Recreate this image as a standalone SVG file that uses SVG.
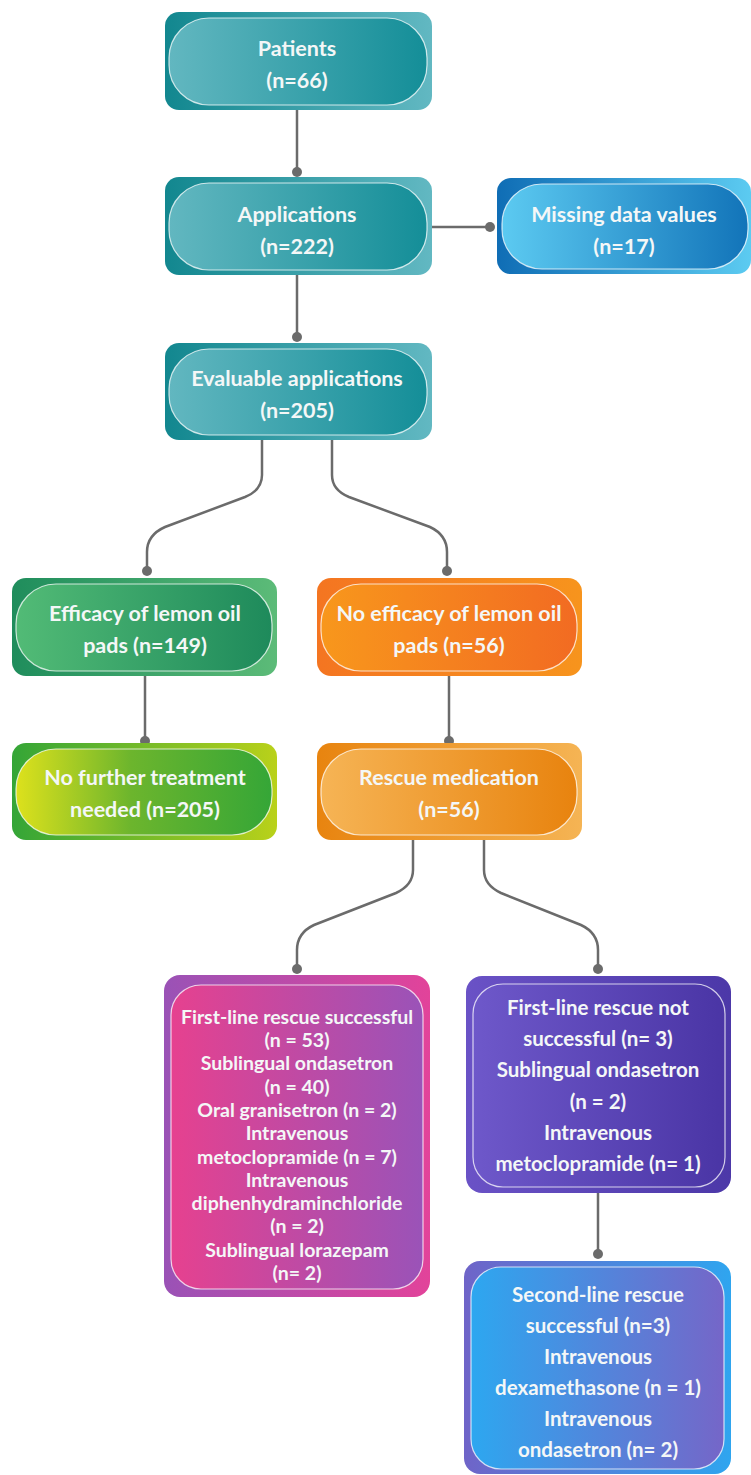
<svg xmlns="http://www.w3.org/2000/svg" width="751" height="1475" viewBox="0 0 751 1475">
<defs>
<linearGradient id="tealO"><stop offset="0" stop-color="#12878f"/><stop offset="1" stop-color="#62b8c2"/></linearGradient>
<linearGradient id="tealI"><stop offset="0" stop-color="#62b7c0"/><stop offset="1" stop-color="#148e98"/></linearGradient>
<linearGradient id="blueO"><stop offset="0" stop-color="#0f6db5"/><stop offset="1" stop-color="#5ccbf1"/></linearGradient>
<linearGradient id="blueI"><stop offset="0" stop-color="#5ccaf1"/><stop offset="1" stop-color="#1274b9"/></linearGradient>
<linearGradient id="greenO"><stop offset="0" stop-color="#1f8d5c"/><stop offset="1" stop-color="#5cbb78"/></linearGradient>
<linearGradient id="greenI"><stop offset="0" stop-color="#52bb76"/><stop offset="1" stop-color="#1e8a5b"/></linearGradient>
<linearGradient id="orO"><stop offset="0" stop-color="#f47521"/><stop offset="1" stop-color="#f7941d"/></linearGradient>
<linearGradient id="orI"><stop offset="0" stop-color="#f8971c"/><stop offset="1" stop-color="#f26b22"/></linearGradient>
<linearGradient id="ygO"><stop offset="0" stop-color="#34a537"/><stop offset="1" stop-color="#b9d11a"/></linearGradient>
<linearGradient id="ygI"><stop offset="0" stop-color="#dde11c"/><stop offset="0.45" stop-color="#6cb52d"/><stop offset="1" stop-color="#35a637"/></linearGradient>
<linearGradient id="loO"><stop offset="0" stop-color="#e8840f"/><stop offset="1" stop-color="#f5b454"/></linearGradient>
<linearGradient id="loI"><stop offset="0" stop-color="#f6b455"/><stop offset="1" stop-color="#e8830e"/></linearGradient>
<linearGradient id="pkO"><stop offset="0" stop-color="#9a52b6"/><stop offset="1" stop-color="#e2439a"/></linearGradient>
<linearGradient id="pkI"><stop offset="0" stop-color="#e6418f"/><stop offset="1" stop-color="#9a53b8"/></linearGradient>
<linearGradient id="inO"><stop offset="0" stop-color="#6a52c6"/><stop offset="1" stop-color="#4c38a8"/></linearGradient>
<linearGradient id="inI"><stop offset="0" stop-color="#6e58ca"/><stop offset="1" stop-color="#4a35a5"/></linearGradient>
<linearGradient id="bpO"><stop offset="0" stop-color="#6f64c8"/><stop offset="1" stop-color="#2fa5ef"/></linearGradient>
<linearGradient id="bpI"><stop offset="0" stop-color="#2da7f0"/><stop offset="1" stop-color="#7566c8"/></linearGradient>
</defs>
<style>
.inner{stroke:#ffffff;stroke-opacity:0.75;stroke-width:1.2}
.t{font-family:Lato,"Liberation Sans",sans-serif;font-weight:bold;fill:#f4f7f7;text-anchor:middle}
.big{font-size:21.5px}
.sm{font-size:19.5px}
.md{font-size:20.5px}
.con{fill:none;stroke:#6b6b6b;stroke-width:2.5}
.dot{fill:#6b6b6b}
</style>
<rect width="751" height="1475" fill="#ffffff"/>
<g id="connectors">
<path class="con" d="M297,110 V172"/><circle class="dot" cx="297" cy="172" r="5"/>
<path class="con" d="M432,227 H490"/><circle class="dot" cx="490" cy="227" r="5"/>
<path class="con" d="M297,275 V337"/><circle class="dot" cx="297" cy="337" r="5"/>
<path class="con" d="M262,440 V475 Q262,490 245,497 L165,527 Q147,535 147,552 V571"/><circle class="dot" cx="147" cy="571" r="5"/>
<path class="con" d="M332,440 V475 Q332,490 349,497 L430,527 Q447,535 447,552 V571"/><circle class="dot" cx="447" cy="571" r="5"/>
<path class="con" d="M145,676 V741"/><circle class="dot" cx="145" cy="741" r="5"/>
<path class="con" d="M449,676 V741"/><circle class="dot" cx="449" cy="741" r="5"/>
<path class="con" d="M413,840 V870 Q413,885 396,893 L314,925 Q297,933 297,950 V969"/><circle class="dot" cx="297" cy="969" r="5"/>
<path class="con" d="M484,840 V870 Q484,885 501,893 L581,925 Q598,933 598,950 V969"/><circle class="dot" cx="598" cy="969" r="5"/>
<path class="con" d="M598,1193 V1254"/><circle class="dot" cx="598" cy="1254" r="5"/>
</g>
<g id="patients">
<rect x="165" y="12" width="267" height="98" rx="14" fill="url(#tealO)"/>
<rect class="inner" x="169" y="18" width="258" height="87" rx="40" fill="url(#tealI)"/>
<text class="t big" x="297" y="56">Patients</text>
<text class="t big" x="297" y="88">(n=66)</text>
</g>
<g id="applications">
<rect x="165" y="177" width="267" height="98" rx="14" fill="url(#tealO)"/>
<rect class="inner" x="169" y="183" width="258" height="87" rx="40" fill="url(#tealI)"/>
<text class="t big" x="297" y="222">Applications</text>
<text class="t big" x="297" y="254">(n=222)</text>
</g>
<g id="missing">
<rect x="497" y="178" width="254" height="96" rx="14" fill="url(#blueO)"/>
<rect class="inner" x="502" y="184" width="246" height="85" rx="40" fill="url(#blueI)"/>
<text class="t big" x="624" y="222">Missing data values</text>
<text class="t big" x="624" y="254">(n=17)</text>
</g>
<g id="evaluable">
<rect x="165" y="343" width="267" height="97" rx="14" fill="url(#tealO)"/>
<rect class="inner" x="169" y="349" width="258" height="86" rx="40" fill="url(#tealI)"/>
<text class="t big" x="297" y="386">Evaluable applications</text>
<text class="t big" x="297" y="418">(n=205)</text>
</g>
<g id="efficacy">
<rect x="12" y="578" width="265" height="98" rx="14" fill="url(#greenO)"/>
<rect class="inner" x="16" y="584" width="256" height="87" rx="40" fill="url(#greenI)"/>
<text class="t big" x="145" y="621">Efficacy of lemon oil</text>
<text class="t big" x="145" y="653">pads (n=149)</text>
</g>
<g id="noefficacy">
<rect x="317" y="578" width="265" height="98" rx="14" fill="url(#orO)"/>
<rect class="inner" x="321" y="584" width="256" height="87" rx="40" fill="url(#orI)"/>
<text class="t big" x="449" y="621">No efficacy of lemon oil</text>
<text class="t big" x="449" y="653">pads (n=56)</text>
</g>
<g id="nofurther">
<rect x="12" y="743" width="265" height="97" rx="14" fill="url(#ygO)"/>
<rect class="inner" x="16" y="749" width="256" height="86" rx="40" fill="url(#ygI)"/>
<text class="t big" x="145" y="785">No further treatment</text>
<text class="t big" x="145" y="817">needed (n=205)</text>
</g>
<g id="rescue">
<rect x="317" y="743" width="265" height="97" rx="14" fill="url(#loO)"/>
<rect class="inner" x="321" y="749" width="256" height="86" rx="40" fill="url(#loI)"/>
<text class="t big" x="449" y="785">Rescue medication</text>
<text class="t big" x="449" y="817">(n=56)</text>
</g>
<g id="firstline-success">
<rect x="164" y="975" width="266" height="322" rx="16" fill="url(#pkO)"/>
<rect class="inner" x="171" y="985" width="252" height="304" rx="30" fill="url(#pkI)"/>
<text class="t sm" x="297" y="1024">First-line rescue successful</text>
<text class="t sm" x="297" y="1047">(n = 53)</text>
<text class="t sm" x="297" y="1070">Sublingual ondasetron</text>
<text class="t sm" x="297" y="1094">(n = 40)</text>
<text class="t sm" x="297" y="1117">Oral granisetron (n = 2)</text>
<text class="t sm" x="297" y="1140">Intravenous</text>
<text class="t sm" x="297" y="1164">metoclopramide (n = 7)</text>
<text class="t sm" x="297" y="1187">Intravenous</text>
<text class="t sm" x="297" y="1210">diphenhydraminchloride</text>
<text class="t sm" x="297" y="1233">(n = 2)</text>
<text class="t sm" x="297" y="1257">Sublingual lorazepam</text>
<text class="t sm" x="297" y="1280">(n= 2)</text>
</g>
<g id="firstline-fail">
<rect x="466" y="976" width="265" height="217" rx="16" fill="url(#inO)"/>
<rect class="inner" x="473" y="984" width="252" height="203" rx="30" fill="url(#inI)"/>
<text class="t md" x="598" y="1015">First-line rescue not</text>
<text class="t md" x="598" y="1046">successful (n= 3)</text>
<text class="t md" x="598" y="1077">Sublingual ondasetron</text>
<text class="t md" x="598" y="1109">(n = 2)</text>
<text class="t md" x="598" y="1140">Intravenous</text>
<text class="t md" x="598" y="1171">metoclopramide (n= 1)</text>
</g>
<g id="secondline">
<rect x="464" y="1261" width="267" height="213" rx="16" fill="url(#bpO)"/>
<rect class="inner" x="471" y="1267" width="253" height="202" rx="30" fill="url(#bpI)"/>
<text class="t md" x="598" y="1302">Second-line rescue</text>
<text class="t md" x="598" y="1333">successful (n=3)</text>
<text class="t md" x="598" y="1364">Intravenous</text>
<text class="t md" x="598" y="1395">dexamethasone (n = 1)</text>
<text class="t md" x="598" y="1426">Intravenous</text>
<text class="t md" x="598" y="1457">ondasetron (n= 2)</text>
</g>
</svg>
